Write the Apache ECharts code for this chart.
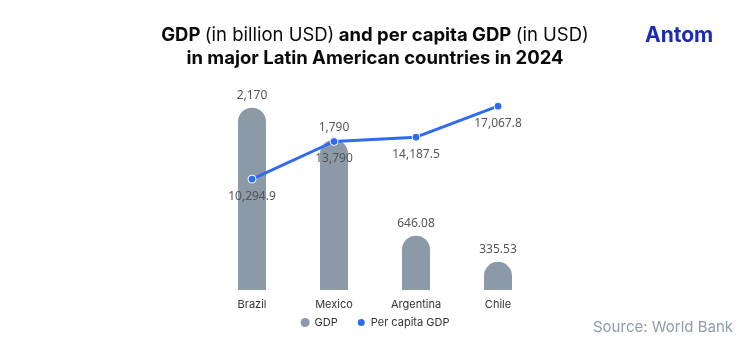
<!DOCTYPE html>
<html><head><meta charset="utf-8">
<script src="https://cdn.jsdelivr.net/npm/echarts@6/dist/echarts.min.js"></script>
<style>html,body{margin:0;padding:0;background:#fff}#c{width:750px;height:348px}</style>
</head><body><div id="c"></div>
<script>
const categories = ['Brazil', 'Mexico', 'Argentina', 'Chile'];
const gdp = [2170, 1790, 646.08, 335.53];
const gdpLabels = ['2,170', '1,790', '646.08', '335.53'];
const perCapita = [10294.9, 13790, 14187.5, 17067.8];
const perCapitaLabels = ['10,294.9', '13,790', '14,187.5', '17,067.8'];

const chart = echarts.init(document.getElementById('c'));
chart.setOption({
  animation: false,
  title: {
    text: '{b|GDP }{n|(in billion USD)}{b| and per capita GDP }{n|(in USD)}\n{b|in major Latin American countries in 2024}',
    left: 'center', top: 19,
    textStyle: {
      rich: {
        b: { fontFamily: 'Inter', fontWeight: 'bold', fontSize: 18.5, color: '#0a0a0a', lineHeight: 23 },
        n: { fontFamily: 'Inter', fontWeight: 'normal', fontSize: 18.5, color: '#0a0a0a', lineHeight: 23 }
      }
    }
  },
  graphic: [
    { type: 'text', left: 645, top: 25, style: { text: 'Antom', font: 'bold 21px Inter', fill: '#1c2bb8' } },
    { type: 'text', right: 17, top: 320, style: { text: 'Source: World Bank', font: '15px Inter', fill: '#8d9cab' } }
  ],
  legend: {
    bottom: 15, left: 'center', itemWidth: 9, itemHeight: 9, itemGap: 18,
    icon: 'circle',
    textStyle: { fontFamily: 'Inter', fontSize: 11, color: '#333' },
    data: ['GDP', 'Per capita GDP']
  },
  grid: { left: 211, right: 211, top: 80, bottom: 58 },
  xAxis: {
    type: 'category', data: categories,
    axisLine: { show: false }, axisTick: { show: false },
    axisLabel: { fontFamily: 'Inter', fontSize: 11, color: '#333', margin: 9 }
  },
  yAxis: [
    { type: 'value', min: 0, max: 2500, show: false, splitLine: { show: false } },
    { type: 'value', min: 0, max: 19500, show: false, splitLine: { show: false } }
  ],
  series: [
    {
      name: 'GDP', type: 'bar', data: gdp, barWidth: 28,
      itemStyle: { color: '#8c99a6', borderRadius: [14, 14, 0, 0] },
      label: { show: true, position: 'top', distance: 6, fontFamily: 'Noto Sans', fontSize: 12, color: '#555',
        formatter: p => gdpLabels[p.dataIndex] }
    },
    {
      name: 'Per capita GDP', type: 'line', yAxisIndex: 1, data: perCapita,
      lineStyle: { color: '#2f6bf0', width: 3 },
      itemStyle: { color: '#2f6bf0', borderColor: '#fff', borderWidth: 1 },
      symbol: 'circle', symbolSize: 8,
      label: { show: true, position: 'bottom', distance: 7, fontFamily: 'Noto Sans', fontSize: 12, color: '#555',
        formatter: p => perCapitaLabels[p.dataIndex] }
    }
  ]
});
</script></body></html>
